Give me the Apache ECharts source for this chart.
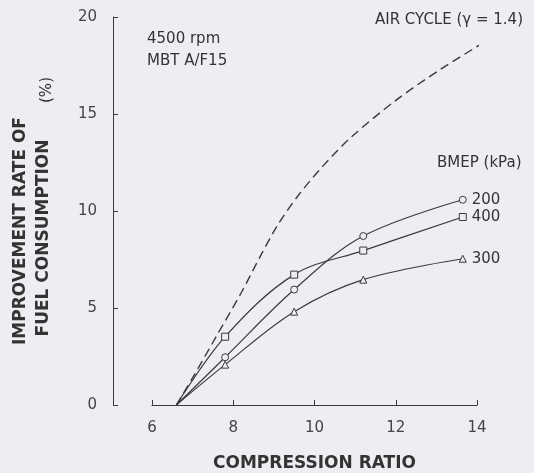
<!DOCTYPE html>
<html>
<head>
<meta charset="utf-8">
<script src="https://cdn.jsdelivr.net/npm/echarts@6/dist/echarts.min.js"></script>
<style>
  html, body { margin: 0; padding: 0; background: #eceef1; }
  #main { width: 534px; height: 473px; }
</style>
</head>
<body>
<div id="main"></div>
<script>
// compression ratio of the measured points (first one is the common origin)
var crPts = [6.6, 7.8, 9.5, 11.2, 13.65];
var bmep200 = [0, 2.46, 5.95, 8.71, 10.58];
var bmep400 = [0, 3.52, 6.72, 7.96, 9.69];
var bmep300 = [0, 2.08, 4.81, 6.46, 7.54];

// air cycle (gamma = 1.4)
var crAir = [6.6, 7.0, 7.6, 8.2, 8.7, 9.1, 9.6, 10.2, 10.9, 12.0, 13.1, 14.1];
var airCycle = [0, 1.4, 3.6, 5.8, 7.8, 9.3, 10.8, 12.3, 13.8, 15.7, 17.3, 18.6];

var xTicks = [6, 8, 10, 12, 14];
var yTicks = [0, 5, 10, 15, 20];

var ink = '#3a3a3a';
var bg = '#eceef1';
var fontFam = '"DejaVu Sans", sans-serif';

function pairs(xs, ys, mark) {
    var out = [];
    for (var i = 0; i < xs.length; i++) {
        if (i === 0) {
            out.push({ value: [xs[i], ys[i]], symbol: 'none' });
        } else {
            out.push({ value: [xs[i], ys[i]], symbol: mark });
        }
    }
    return out;
}

function bmepSeries(name, vals, mark) {
    return {
        name: name,
        type: 'line',
        smooth: 0.35,
        data: pairs(crPts, vals, mark),
        symbolSize: 7,
        itemStyle: { color: bg, borderColor: ink, borderWidth: 1 },
        lineStyle: { color: ink, width: 1.2 },
        endLabel: {
            show: true,
            formatter: name,
            distance: 9,
            color: '#333',
            fontFamily: fontFam,
            fontSize: 15
        },
        z: 3
    };
}

var myChart = echarts.init(document.getElementById('main'));
var option = {
    backgroundColor: bg,
    animation: false,
    grid: { left: 152, right: 57, top: 17, bottom: 68, containLabel: false, outerBoundsMode: 'none' },
    xAxis: {
        type: 'value',
        min: xTicks[0],
        max: xTicks[xTicks.length - 1],
        interval: 2,
        name: 'COMPRESSION RATIO',
        nameLocation: 'middle',
        nameGap: 50,
        nameTextStyle: { color: '#333', fontFamily: fontFam, fontWeight: 'bold', fontSize: 17 },
        axisLine: { lineStyle: { color: ink, width: 1 } },
        axisTick: { inside: true, length: 5, lineStyle: { color: ink } },
        axisLabel: { color: '#444', fontFamily: fontFam, fontSize: 15, margin: 16 },
        splitLine: { show: false }
    },
    yAxis: {
        type: 'value',
        min: yTicks[0],
        max: yTicks[yTicks.length - 1],
        interval: 5,
        offset: 39,
        axisLine: { show: true, lineStyle: { color: ink, width: 1 } },
        axisTick: { show: true, inside: true, length: 5, lineStyle: { color: ink } },
        axisLabel: { color: '#444', fontFamily: fontFam, fontSize: 15, margin: 16 },
        splitLine: { show: false }
    },
    graphic: [
        { type: 'text', x: 21, y: 231, rotation: Math.PI / 2,
          style: { text: 'IMPROVEMENT RATE OF', font: 'bold 17px ' + fontFam, fill: '#333',
                   align: 'center', verticalAlign: 'middle', textAlign: 'center', textVerticalAlign: 'middle' } },
        { type: 'text', x: 44, y: 238, rotation: Math.PI / 2,
          style: { text: 'FUEL CONSUMPTION', font: 'bold 17px ' + fontFam, fill: '#333',
                   align: 'center', verticalAlign: 'middle', textAlign: 'center', textVerticalAlign: 'middle' } },
        { type: 'text', x: 47, y: 90, rotation: Math.PI / 2,
          style: { text: '(%)', font: '15px ' + fontFam, fill: '#333',
                   align: 'center', verticalAlign: 'middle', textAlign: 'center', textVerticalAlign: 'middle' } },
        { type: 'text', x: 147, y: 39,
          style: { text: '4500 rpm', font: '15px ' + fontFam, fill: '#333',
                   align: 'left', verticalAlign: 'middle', textAlign: 'left', textVerticalAlign: 'middle' } },
        { type: 'text', x: 147, y: 61,
          style: { text: 'MBT A/F15', font: '15px ' + fontFam, fill: '#333',
                   align: 'left', verticalAlign: 'middle', textAlign: 'left', textVerticalAlign: 'middle' } },
        { type: 'text', x: 523, y: 20,
          style: { text: 'AIR CYCLE (\u03b3 = 1.4)', font: '15px ' + fontFam, fill: '#333',
                   align: 'right', verticalAlign: 'middle', textAlign: 'right', textVerticalAlign: 'middle' } },
        { type: 'text', x: 437, y: 163,
          style: { text: 'BMEP (kPa)', font: '15px ' + fontFam, fill: '#333',
                   align: 'left', verticalAlign: 'middle', textAlign: 'left', textVerticalAlign: 'middle' } }
    ],
    series: [
        {
            name: 'AIR CYCLE',
            type: 'line',
            smooth: 0.3,
            clip: false,
            showSymbol: false,
            symbol: 'none',
            data: pairs(crAir, airCycle, 'none'),
            lineStyle: { color: ink, width: 1.4, type: [9, 5] }
        },
        bmepSeries('200', bmep200, 'circle'),
        bmepSeries('400', bmep400, 'rect'),
        bmepSeries('300', bmep300, 'triangle')
    ]
};
myChart.setOption(option);
</script>
</body>
</html>
